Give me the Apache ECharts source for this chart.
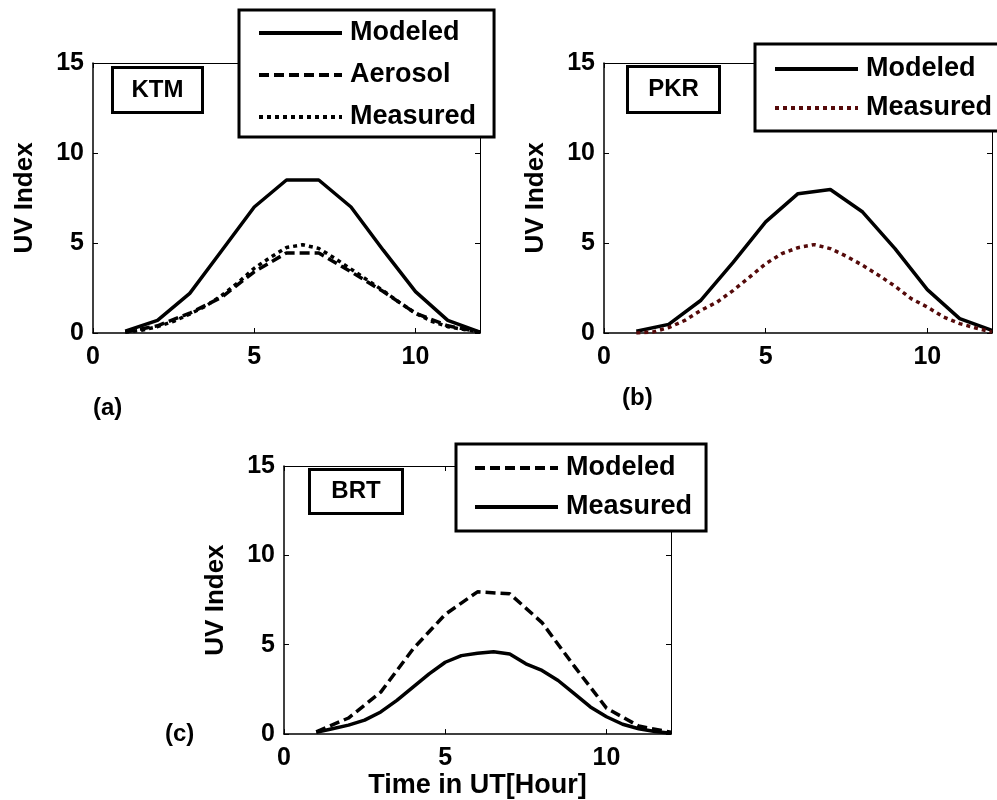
<!DOCTYPE html>
<html>
<head>
<meta charset="utf-8">
<script src="https://cdn.jsdelivr.net/npm/echarts@6/dist/echarts.min.js"></script>
<style>
  html, body { margin: 0; padding: 0; background: #fff; }
  #main { width: 997px; height: 800px; }
</style>
</head>
<body>
<div id="main"></div>
<script>
// hours (UT)
var hours = [1, 2, 3, 4, 5, 6, 7, 8, 9, 10, 11, 12];
var halfHours = [1, 1.5, 2, 2.5, 3, 3.5, 4, 4.5, 5, 5.5, 6, 6.5, 7, 7.5, 8, 8.5, 9, 9.5, 10, 10.5, 11, 11.5, 12];

// (a) KTM
var ktmModeled  = [0.1, 0.7, 2.2, 4.6, 7.0, 8.5, 8.5, 7.0, 4.6, 2.3, 0.7, 0.05];
var ktmAerosol  = [0.05, 0.4, 1.1, 2.0, 3.4, 4.45, 4.45, 3.4, 2.3, 1.1, 0.4, 0.05];
var ktmMeasured = [0.05, 0.15, 0.35, 0.65, 1.05, 1.5, 2.1, 2.8, 3.6, 4.2, 4.75, 4.9, 4.7, 4.15, 3.55, 2.95, 2.35, 1.7, 1.1, 0.65, 0.35, 0.2, 0.05];

// (b) PKR
var pkrModeled  = [0.1, 0.48, 1.82, 3.94, 6.17, 7.74, 7.97, 6.72, 4.69, 2.41, 0.8, 0.15];
var pkrMeasured = [0.0, 0.05, 0.3, 0.7, 1.26, 1.72, 2.37, 3.1, 3.85, 4.41, 4.74, 4.91, 4.69, 4.26, 3.76, 3.2, 2.6, 1.91, 1.44, 0.89, 0.52, 0.28, 0.05];

// (c) BRT
var brtModeled  = [0.13, 0.9, 2.35, 4.76, 6.7, 7.96, 7.85, 6.24, 3.8, 1.45, 0.45, 0.1];
var brtMeasured = [0.1, 0.3, 0.5, 0.78, 1.24, 1.89, 2.63, 3.37, 4.02, 4.39, 4.52, 4.61, 4.48, 3.93, 3.56, 3.0, 2.26, 1.52, 0.97, 0.55, 0.3, 0.15, 0.05];

function pairs(xs, ys) {
  return xs.map(function (x, i) { return [x, ys[i]]; });
}

var FONT = 'Liberation Sans, Arial, sans-serif';
var grids = [
  { left: 93, top: 63, width: 387, height: 270 },
  { left: 604, top: 63, width: 388, height: 270 },
  { left: 284, top: 466, width: 387, height: 270 }
];

var xAxes = [], yAxes = [];
grids.forEach(function (g, i) {
  // bottom / left with labels
  xAxes.push({
    type: 'value', gridIndex: i, min: 0, max: 12, interval: 5,
    axisLine: { lineStyle: { color: '#000', width: 1.5 } },
    axisTick: { inside: true, length: 5, lineStyle: { color: '#000' } },
    axisLabel: { color: '#000', fontSize: 25, fontWeight: 'bold', fontFamily: FONT, margin: 12, showMaxLabel: false },
    splitLine: { show: false },
    name: i === 2 ? 'Time in UT[Hour]' : '',
    nameLocation: 'middle', nameGap: 32,
    nameTextStyle: { color: '#000', fontSize: 27, fontWeight: 'bold', fontFamily: FONT }
  });
  yAxes.push({
    type: 'value', gridIndex: i, min: 0, max: 15, interval: 5,
    axisLine: { show: true, lineStyle: { color: '#000', width: 1.5 } },
    axisTick: { show: true, inside: true, length: 5, lineStyle: { color: '#000' } },
    axisLabel: { color: '#000', fontSize: 25, fontWeight: 'bold', fontFamily: FONT, margin: 9 },
    splitLine: { show: false },
    name: 'UV Index', nameLocation: 'middle', nameGap: 55,
    nameTextStyle: { color: '#000', fontSize: 26, fontWeight: 'bold', fontFamily: FONT }
  });
  // mirrored frame axes (top / right)
  xAxes.push({
    type: 'value', gridIndex: i, min: 0, max: 12, interval: 5, position: 'top',
    axisLine: { onZero: false, lineStyle: { color: '#000', width: 1 } },
    axisTick: { inside: true, length: 5, lineStyle: { color: '#000' } },
    axisLabel: { show: false }, splitLine: { show: false }
  });
  yAxes.push({
    type: 'value', gridIndex: i, min: 0, max: 15, interval: 5, position: 'right',
    axisLine: { show: true, onZero: false, lineStyle: { color: '#000', width: 1 } },
    axisTick: { show: true, inside: true, length: 5, lineStyle: { color: '#000' } },
    axisLabel: { show: false }, splitLine: { show: false }
  });
});

function line(name, gi, data, color, type) {
  return {
    name: name, type: 'line', xAxisIndex: gi * 2, yAxisIndex: gi * 2,
    data: data, symbol: 'none', showSymbol: false, silent: true,
    lineStyle: { color: color, width: 3.5, type: type },
    itemStyle: { color: color },
    z: 3
  };
}

var DASH = [10, 5];
var DOT = [4, 4];

var series = [
  line('Modeled|a', 0, pairs(hours, ktmModeled), '#000', 'solid'),
  line('Aerosol|a', 0, pairs(hours, ktmAerosol), '#000', DASH),
  line('Measured|a', 0, pairs(halfHours, ktmMeasured), '#000', DOT),
  line('Modeled|b', 1, pairs(hours, pkrModeled), '#000', 'solid'),
  line('Measured|b', 1, pairs(halfHours, pkrMeasured), '#550a0a', DOT),
  line('Modeled|c', 2, pairs(hours, brtModeled), '#000', DASH),
  line('Measured|c', 2, pairs(halfHours, brtMeasured), '#000', 'solid')
];

function legend(names, left, top, gap, pad) {
  return {
    data: names, orient: 'vertical', left: left, top: top,
    itemGap: gap, itemWidth: 83, itemHeight: 20, padding: pad,
    backgroundColor: '#fff', borderColor: '#000', borderWidth: 3,
    selectedMode: false, z: 10,
    itemStyle: { opacity: 0 },
    lineStyle: { width: 4 },
    formatter: function (n) { return n.split('|')[0]; },
    textStyle: { color: '#000', fontSize: 27, fontWeight: 'bold', fontFamily: FONT, lineHeight: 30, padding: [0, 0, 0, 3] }
  };
}

function stationBox(label, x, y, w, h) {
  return {
    type: 'group', left: x, top: y, z: 10,
    children: [
      { type: 'rect', shape: { x: 0, y: 0, width: w, height: h },
        style: { fill: '#fff', stroke: '#000', lineWidth: 3 } },
      { type: 'text', x: w / 2, y: h / 2,
        style: { text: label, fill: '#000', font: 'bold 24px ' + FONT, textAlign: 'center', textVerticalAlign: 'middle' } }
    ]
  };
}

function panelLabel(t, x, y) {
  return { type: 'text', left: x, top: y,
    style: { text: t, fill: '#000', font: 'bold 24px ' + FONT } };
}

var option = {
  backgroundColor: '#fff',
  animation: false,
  grid: grids,
  xAxis: xAxes,
  yAxis: yAxes,
  legend: [
    legend(['Modeled|a', 'Aerosol|a', 'Measured|a'], 239, 10, 12, [8, 18, 5, 18]),
    legend(['Modeled|b', 'Measured|b'], 755, 44, 9, [10, 30, 8, 18]),
    legend(['Modeled|c', 'Measured|c'], 456, 444, 9, [9, 14, 9, 17])
  ],
  graphic: [
    stationBox('KTM', 111, 66, 90, 45),
    stationBox('PKR', 626, 65, 92, 46),
    stationBox('BRT', 308, 468, 93, 44),
    panelLabel('(a)', 93, 396),
    panelLabel('(b)', 622, 386),
    panelLabel('(c)', 165, 722)
  ],
  series: series
};

var chart = echarts.init(document.getElementById('main'));
chart.setOption(option);
</script>
</body>
</html>
